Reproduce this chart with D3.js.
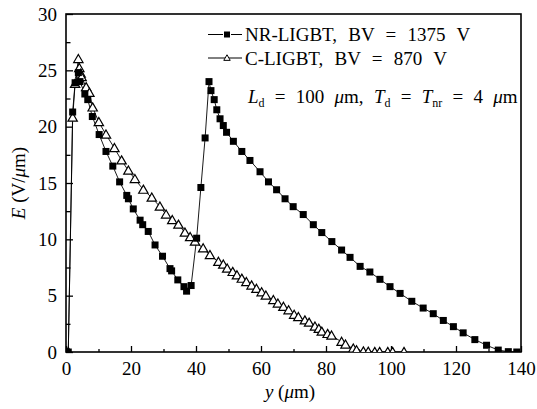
<!DOCTYPE html>
<html>
<head>
<meta charset="utf-8">
<script src="https://cdn.jsdelivr.net/npm/d3@7"></script>
<style>
  html, body { margin: 0; padding: 0; background: #fff; }
  svg { display: block; }
  svg text { font-family: "Liberation Serif", Tinos, "Times New Roman", Times, "DejaVu Serif", serif; fill: #000; }
</style>
</head>
<body>
<svg id="chart" width="537" height="409"></svg>
<script>
// NR-LIGBT: position y (µm) and field E (V/µm)
const nrPos = [0.7, 2.05, 2.8, 3.8, 4.3, 5.8, 6.7, 8.1, 10.2, 12.3, 14.4, 16.5, 18.7, 19.2,
  20.7, 22.8, 23.6, 25.3, 27.4, 29.7, 32.0, 32.5, 34.4, 36.3, 37.1, 38.5, 40.2, 41.5, 42.8,
  44.0, 44.6, 45.6, 46.4, 47.4, 48.4, 49.4, 51.5, 54.1, 56.6, 59.7, 62.3, 64.8, 67.4, 69.9,
  73.0, 76.1, 78.7, 81.8, 84.8, 87.4, 90.5, 93.5, 96.6, 99.7, 102.8, 106.4, 109.9, 113.0,
  116.1, 119.2, 122.2, 125.8, 129.4, 133.0, 136.1, 138.7];
const nrField = [0, 21.3, 23.9, 24.8, 24.0, 22.9, 22.4, 20.9, 19.3, 17.8, 16.5, 15.1, 13.9, 13.6,
  12.7, 11.7, 11.3, 10.7, 9.5, 8.5, 7.4, 7.2, 6.4, 5.8, 5.4, 5.9, 10.1, 14.6, 19.0,
  24.0, 23.2, 22.4, 21.5, 20.7, 20.1, 19.5, 18.7, 17.8, 17.0, 16.0, 15.1, 14.4, 13.6, 12.9,
  12.2, 11.3, 10.6, 9.8, 9.05, 8.4, 7.6, 7.1, 6.45, 5.8, 5.2, 4.5, 3.9, 3.4,
  2.8, 2.25, 1.7, 1.1, 0.6, 0.17, 0.03, 0];

// C-LIGBT: position y (µm) and field E (V/µm)
const cPos = [0.7, 2.05, 2.8, 3.8, 4.1, 4.5, 4.8, 6.2, 7.2, 8.2, 10.1, 12.3, 14.9, 17.1, 19.2,
  21.2, 23.8, 26.4, 28.9, 30.8, 32.7, 34.6, 36.6, 38.2, 39.7, 42.2, 44.3, 46.9, 48.4, 49.6,
  51.3, 52.6, 54.1, 55.5, 57.1, 58.6, 60.2, 61.5, 63.8, 65.2, 66.9, 68.5, 70.2, 71.5, 73.5,
  74.8, 76.6, 77.8, 78.7, 80.5, 81.7, 84.8, 86.0, 88.4, 89.4, 91.5, 93.0, 95.0, 96.5, 99.0,
  100.5, 104.0];
const cField = [0, 20.8, 23.8, 26.0, 25.2, 24.7, 24.4, 23.5, 23.0, 21.7, 20.4, 19.3, 18.1, 17.0, 16.1,
  15.35, 14.4, 13.7, 12.9, 12.2, 11.7, 11.3, 10.6, 10.2, 9.8, 9.2, 8.6, 8.0, 7.75, 7.4,
  7.1, 6.8, 6.5, 6.2, 5.9, 5.6, 5.3, 5.0, 4.6, 4.3, 4.0, 3.7, 3.3, 3.1, 2.8,
  2.6, 2.25, 2.05, 1.8, 1.6, 1.45, 0.9, 0.65, 0.3, 0.15, 0.05, 0.02, 0, 0, 0,
  0, 0];

// Axis ticks
const xMajor = [0, 20, 40, 60, 80, 100, 120, 140];
const xMinor = [10, 30, 50, 70, 90, 110, 130];
const yMajor = [0, 5, 10, 15, 20, 25, 30];
const yMinor = [2.5, 7.5, 12.5, 17.5, 22.5, 27.5];

const svg = d3.select("#chart");
const pLeft = 66, pRight = 521, pTop = 14, pBottom = 352;
const x = d3.scaleLinear().domain([0, 140]).range([pLeft, pRight]);
const y = d3.scaleLinear().domain([0, 30]).range([pBottom, pTop]);

svg.append("defs").append("clipPath").attr("id", "plotClip")
  .append("rect").attr("x", pLeft).attr("y", pTop)
  .attr("width", pRight - pLeft).attr("height", pBottom - pTop);

const FS = 19;

// axes with inward ticks
const axes = [
  svg.append("g").attr("transform", `translate(0,${pBottom})`)
    .call(d3.axisBottom(x).tickValues(xMajor).tickSizeInner(-6).tickSizeOuter(0).tickPadding(10)),
  svg.append("g").attr("transform", `translate(0,${pBottom})`)
    .call(d3.axisBottom(x).tickValues(xMinor).tickSizeInner(-3).tickSizeOuter(0).tickFormat("")),
  svg.append("g").attr("transform", `translate(${pLeft},0)`)
    .call(d3.axisLeft(y).tickValues(yMajor).tickSizeInner(-7).tickSizeOuter(0).tickPadding(9)),
  svg.append("g").attr("transform", `translate(${pLeft},0)`)
    .call(d3.axisLeft(y).tickValues(yMinor).tickSizeInner(-4.5).tickSizeOuter(0).tickFormat(""))
];
axes.forEach(g => g.attr("font-family", null).attr("font-size", FS));

svg.selectAll(".domain").remove();
svg.selectAll(".tick line").attr("stroke", "#000").attr("stroke-width", 1.3);
svg.selectAll(".tick text").style("font-size", FS + "px");

// frame
svg.append("rect").attr("x", pLeft).attr("y", pTop)
  .attr("width", pRight - pLeft).attr("height", pBottom - pTop)
  .attr("fill", "none").attr("stroke", "#000").attr("stroke-width", 1.6);

const plot = svg.append("g").attr("clip-path", "url(#plotClip)");
const line = d3.line().x(d => x(d[0])).y(d => y(d[1]));

const nrData = nrPos.map((p, i) => [p, nrField[i]]);
const cData = cPos.map((p, i) => [p, cField[i]]);

plot.append("path").datum(cData).attr("d", line)
  .attr("fill", "none").attr("stroke", "#000").attr("stroke-width", 0.9);
plot.append("path").datum(nrData).attr("d", line)
  .attr("fill", "none").attr("stroke", "#000").attr("stroke-width", 0.9);

const tri = d3.symbol().type(d3.symbolTriangle).size(38);
plot.selectAll(".tri").data(cData).join("path")
  .attr("class", "tri")
  .attr("transform", d => `translate(${x(d[0])},${y(d[1]) + 0.8})`)
  .attr("d", tri)
  .attr("fill", "#fff").attr("stroke", "#000").attr("stroke-width", 1.2);

const sq = 7;
plot.selectAll(".sq").data(nrData).join("rect")
  .attr("class", "sq")
  .attr("x", d => x(d[0]) - sq / 2).attr("y", d => y(d[1]) - sq / 2)
  .attr("width", sq).attr("height", sq).attr("fill", "#000");

// legend
const leg = svg.append("g").style("font-size", FS + "px");
function legendRow(cy, kind) {
  leg.append("line").attr("x1", 208).attr("x2", 242).attr("y1", cy).attr("y2", cy)
    .attr("stroke", "#000").attr("stroke-width", 1);
  if (kind === "sq") {
    leg.append("rect").attr("x", 227 - 3).attr("y", cy - 3).attr("width", 6).attr("height", 6)
      .attr("fill", "#000").attr("stroke", "#fff").attr("stroke-width", 2).attr("paint-order", "stroke");
  } else {
    leg.append("path").attr("transform", `translate(227,${cy + 0.5})`)
      .attr("d", d3.symbol().type(d3.symbolTriangle).size(18))
      .attr("fill", "#fff").attr("stroke", "#000").attr("stroke-width", 1);
  }
}
legendRow(34.5, "sq");
legendRow(58, "tri");
leg.append("text").attr("x", 245).attr("y", 41).style("word-spacing", "6.5px")
  .text("NR-LIGBT, BV = 1375 V");
leg.append("text").attr("x", 245).attr("y", 65).style("word-spacing", "6.5px")
  .text("C-LIGBT, BV = 870 V");

const t3 = leg.append("text").attr("x", 248).attr("y", 102.5).style("word-spacing", "5.5px");
t3.append("tspan").style("font-style", "italic").text("L");
t3.append("tspan").style("font-size", "12px").attr("dy", 4).text("d");
t3.append("tspan").attr("dy", -4).text(" = 100 ");
t3.append("tspan").style("font-style", "italic").text("μ");
t3.append("tspan").text("m, ");
t3.append("tspan").style("font-style", "italic").text("T");
t3.append("tspan").style("font-size", "12px").attr("dy", 4).text("d");
t3.append("tspan").attr("dy", -4).text(" = ");
t3.append("tspan").style("font-style", "italic").text("T");
t3.append("tspan").style("font-size", "12px").attr("dy", 4).text("nr");
t3.append("tspan").attr("dy", -4).text(" = 4 ");
t3.append("tspan").style("font-style", "italic").text("μ");
t3.append("tspan").text("m");

// axis titles
const xt = svg.append("text").attr("x", 290).attr("y", 398)
  .attr("text-anchor", "middle").style("font-size", FS + "px");
xt.append("tspan").style("font-style", "italic").text("y");
xt.append("tspan").text(" (");
xt.append("tspan").style("font-style", "italic").text("μ");
xt.append("tspan").text("m)");

const yt = svg.append("text")
  .attr("transform", `translate(25,${(pTop + pBottom) / 2}) rotate(-90)`)
  .attr("text-anchor", "middle").style("font-size", FS + "px");
yt.append("tspan").style("font-style", "italic").text("E");
yt.append("tspan").text(" (V/");
yt.append("tspan").style("font-style", "italic").text("μ");
yt.append("tspan").text("m)");
</script>
</body>
</html>
